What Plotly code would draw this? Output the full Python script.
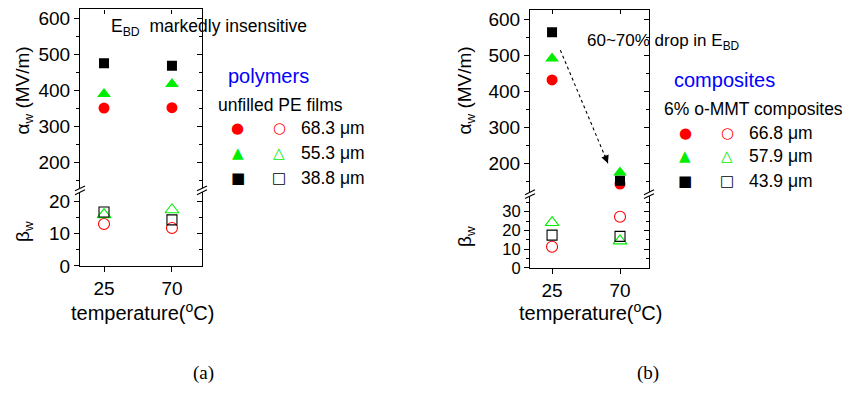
import plotly.graph_objects as go

# the page has an 8px body margin, so the figure is drawn 8px in from the window edge
OFF = 8
W, H = 857 - OFF, 403 - OFF

# ---------------- data ----------------
temps = [25, 70]
temp_ticks = [25, 70]

# (a) unfilled PE films
pe_labels = ["68.3 \u03bcm", "55.3 \u03bcm", "38.8 \u03bcm"]
pe_alpha_683 = [351, 352]
pe_alpha_553 = [390, 418]
pe_alpha_388 = [476, 469]
pe_beta_683 = [12.9, 11.7]
pe_beta_553 = [15.8, 17.3]
pe_beta_388 = [16.6, 14.2]

# (b) 6% o-MMT composites
mmt_labels = ["66.8 \u03bcm", "57.9 \u03bcm", "43.9 \u03bcm"]
mmt_alpha_668 = [432, 142]
mmt_alpha_579 = [492, 174]
mmt_alpha_439 = [565, 151]
mmt_beta_668 = [11.3, 27.3]
mmt_beta_579 = [24.2, 14.4]
mmt_beta_439 = [17.5, 16.8]

# ---------------- style ----------------
FONT = "Liberation Sans, Arial, sans-serif"
RED, GREEN, BLACK, BLUE = "#ff0000", "#00ee00", "#000000", "#0000ff"
series_style = [("circle", RED, 11), ("triangle-up", GREEN, 12), ("square", BLACK, 10)]


def px(x):
    return (x - OFF) / W


def py(y):
    return 1 - (y - OFF) / H


fig = go.Figure()


def add_points(xa, ya_top, ya_bot, alphas, betas):
    for (sym, col, sz), a in zip(series_style, alphas):
        fig.add_trace(go.Scatter(x=temps, y=a, xaxis=xa, yaxis=ya_top, mode="markers",
                                 marker=dict(symbol=sym, color=col, size=sz, line=dict(width=0)),
                                 showlegend=False))
    for (sym, col, sz), b in zip(series_style, betas):
        fig.add_trace(go.Scatter(x=temps, y=b, xaxis=xa, yaxis=ya_bot, mode="markers",
                                 marker=dict(symbol=sym + "-open", color=col, size=sz,
                                             line=dict(width=1.1, color=col)),
                                 showlegend=False))


add_points("x", "y2", "y", [pe_alpha_683, pe_alpha_553, pe_alpha_388],
           [pe_beta_683, pe_beta_553, pe_beta_388])
add_points("x3", "y6", "y5", [mmt_alpha_668, mmt_alpha_579, mmt_alpha_439],
           [mmt_beta_668, mmt_beta_579, mmt_beta_439])

# dummy traces so that the mirror axes exist
for xa, ya in [("x2", "y2"), ("x", "y3"), ("x", "y4"), ("x4", "y6"), ("x3", "y7"), ("x3", "y8")]:
    fig.add_trace(go.Scatter(x=[None], y=[None], xaxis=xa, yaxis=ya, showlegend=False,
                             hoverinfo="skip"))

tickfont = dict(family=FONT, size=19, color="black")
base = dict(showgrid=False, zeroline=False, showline=True, linecolor="black", linewidth=1.2,
            tickcolor="black", tickwidth=1.1, tickfont=tickfont)


def xaxes(dom, rng):
    bottom = dict(base, domain=dom, range=rng, tickmode="array", tickvals=temp_ticks,
                  ticks="outside", ticklen=5)
    top = dict(base, range=rng, tickmode="array", tickvals=temp_ticks, ticks="inside",
               ticklen=4, showticklabels=False, side="top")
    return bottom, top


def yaxis(dom, rng, dtick, mdtick, anchor, inside=False, overlay=None, fsize=19):
    d = dict(base, range=rng, dtick=dtick, tick0=0, anchor=anchor,
             ticks="inside" if inside else "outside", ticklen=5,
             tickfont=dict(tickfont, size=fsize),
             minor=dict(ticks="inside" if inside else "outside", ticklen=3, dtick=mdtick,
                        tick0=0, tickcolor="black", tickwidth=1.1))
    if overlay:
        d.update(overlaying=overlay, side="right", showticklabels=False)
    else:
        d.update(domain=dom)
    return d


# panel (a) geometry (reference pixel positions)
xa_dom = [px(80), px(202)]
xa_rng = [9.1, 89.9]
ya_top_dom = [py(193), py(8.5)]
ya_top_rng = [127, 625.7]
ya_bot_dom = [py(273), py(197)]
ya_bot_rng = [0, 22.7]
# panel (b) geometry
xb_dom = [px(530), px(649)]
xb_rng = [10.4, 89.2]
yb_top_dom = [py(197), py(9)]
yb_top_rng = [119, 627]
yb_bot_dom = [py(275), py(201)]
yb_bot_rng = [0, 38.3]

xa_b, xa_t = xaxes(xa_dom, xa_rng)
xb_b, xb_t = xaxes(xb_dom, xb_rng)

fig.update_layout(
    width=W, height=H, margin=dict(l=0, r=0, t=0, b=0),
    paper_bgcolor="white", plot_bgcolor="rgba(0,0,0,0)",
    font=dict(family=FONT, color="black"),
    xaxis=dict(xa_b, anchor="y"),
    xaxis2=dict(xa_t, anchor="y2", overlaying="x"),
    yaxis=yaxis(ya_bot_dom, ya_bot_rng, 10, 5, "x"),
    yaxis2=yaxis(ya_top_dom, ya_top_rng, 100, 50, "x"),
    yaxis3=yaxis(None, ya_top_rng, 100, 50, "x", inside=True, overlay="y2"),
    yaxis4=yaxis(None, ya_bot_rng, 10, 5, "x", inside=True, overlay="y"),
    xaxis3=dict(xb_b, anchor="y5"),
    xaxis4=dict(xb_t, anchor="y6", overlaying="x3"),
    yaxis5=yaxis(yb_bot_dom, yb_bot_rng, 10, 5, "x3", fsize=16.5),
    yaxis6=yaxis(yb_top_dom, yb_top_rng, 100, 50, "x3"),
    yaxis7=yaxis(None, yb_top_rng, 100, 50, "x3", inside=True, overlay="y6"),
    yaxis8=yaxis(None, yb_bot_rng, 10, 5, "x3", inside=True, overlay="y5"),
)

# ---------------- break marks ----------------
shapes = []
for X, Yc in [(80, 195), (202, 195), (530, 199), (649, 199)]:
    for dy in (-2, 2):
        shapes.append(dict(type="line", xref="paper", yref="paper",
                           x0=px(X - 5), y0=py(Yc + dy + 2.5), x1=px(X + 5), y1=py(Yc + dy - 2.5),
                           line=dict(color="black", width=1.1)))

# dashed arrow in panel (b)
arrow_start = (30.5, 515)
arrow_end = (62, 200)
shapes.append(dict(type="line", xref="x3", yref="y6", x0=arrow_start[0], y0=arrow_start[1],
                   x1=arrow_end[0], y1=arrow_end[1], line=dict(color="black", width=1.1, dash="3px,3px")))
fig.update_layout(shapes=shapes)

ann = []


def text(x, y, s, size=17, color="black", xanchor="left", angle=0, family=FONT):
    ann.append(dict(x=px(x), y=py(y), xref="paper", yref="paper", text=s, showarrow=False,
                    xanchor=xanchor, yanchor="middle", textangle=angle,
                    font=dict(family=family, size=size, color=color)))


ann.append(dict(x=arrow_end[0], y=arrow_end[1], xref="x3", yref="y6", ax=-4, ay=-10,
                showarrow=True, arrowhead=2, arrowsize=1.4, arrowwidth=1.1, arrowcolor="black",
                text="", standoff=0))

# panel (a) texts
text(109, 27, "E<sub>BD</sub>\u00a0\u00a0markedly insensitive", 17.5)
text(226, 77, "polymers", 20, BLUE)
text(216, 107, "unfilled PE films", 17.5)
# panel (b) texts
text(585, 42, "60~70% drop in E<sub>BD</sub>", 17)
text(672, 81, "composites", 20, BLUE)
text(662, 111, "6% o-MMT composites", 17.5)

# legend keys
glyphs = [("\u25cf", "\u25cb", RED), ("\u25b2", "\u25b3", GREEN), ("\u25a0", "\u25a1", BLACK)]
for (xf, xo, xt, ys, labels) in [(238, 279, 299, [131, 156, 182], pe_labels),
                                 (685, 727, 747, [136, 160, 185], mmt_labels)]:
    for (gf, go_, col), yy, lab in zip(glyphs, ys, labels):
        text(xf, yy, gf, 15, col, "center", family="DejaVu Sans")
        text(xo, yy, go_, 15, col, "center", family="DejaVu Sans")
        text(xt, yy, lab, 17.5)

# axis titles
for xc in (24, 466):
    text(xc, 92, "\u03b1<sub>w</sub> (MV/m)", 19, xanchor="center", angle=-90)
text(24, 237, "\u03b2<sub>w</sub>", 19, xanchor="center", angle=-90)
text(466, 242, "\u03b2<sub>w</sub>", 19, xanchor="center", angle=-90)
text(142, 320, "temperature(<sup>o</sup>C)", 20, xanchor="center")
text(590, 320, "temperature(<sup>o</sup>C)", 20, xanchor="center")
text(203, 383, "(a)", 19, xanchor="center", family="Liberation Serif, Times New Roman, serif")
text(648, 383, "(b)", 19, xanchor="center", family="Liberation Serif, Times New Roman, serif")

fig.update_layout(annotations=ann)
fig.write_html("out.html")
